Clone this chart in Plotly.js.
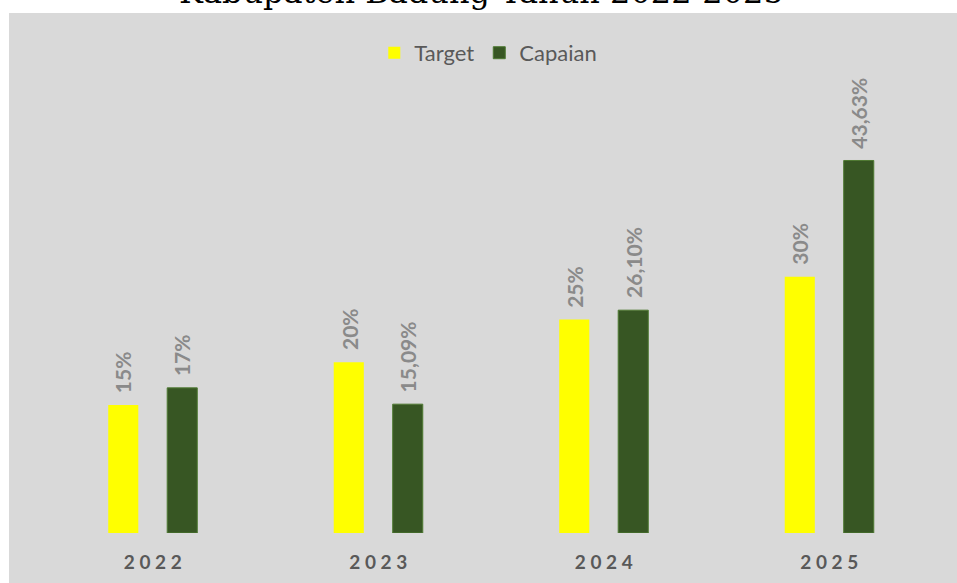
<!DOCTYPE html>
<html>
<head>
<meta charset="utf-8">
<script src="https://cdn.plot.ly/plotly-3.0.1.min.js"></script>
<style>
html,body{margin:0;padding:0;background:#ffffff;}
#bg{position:absolute;left:9px;top:13px;right:0;bottom:0;background:#d9d9d9;}
#chart{position:absolute;left:0;top:0;width:957px;height:583px;}
</style>
</head>
<body>
<div id="bg"></div>
<div id="chart"></div>
<script>
const years = ['2022', '2023', '2024', '2025'];
const yearLabels = ['2 0 2 2', '2 0 2 3', '2 0 2 4', '2 0 2 5'];
const target = [15, 20, 25, 30];
const targetLabels = ['15%', '20%', '25%', '30%'];
const capaian = [17, 15.09, 26.10, 43.63];
const capaianLabels = ['17%', '15,09%', '26,10%', '43,63%'];
const titleText = 'Kabupaten Badung Tahun 2022-2025';

const bargap = 0.477;
const slot = (1 - bargap) / 2;

const traces = [
  {type: 'bar', name: 'Target', x: years, y: target,
   marker: {color: '#ffff00'}, hoverinfo: 'skip'},
  {type: 'bar', name: 'Capaian', x: years, y: capaian,
   marker: {color: '#375623', line: {color: '#4f7a33', width: 1}}, hoverinfo: 'skip'}
];

const annotations = [];
const labelFont = {family: 'Lato, "Open Sans", sans-serif', size: 21, color: '#8a8a8a', weight: 'bold'};
years.forEach((yr, i) => {
  annotations.push({x: i - slot / 2, y: target[i], xref: 'x', yref: 'y', text: '<b>' + targetLabels[i] + '</b>',
    textangle: -90, showarrow: false, yanchor: 'bottom', xanchor: 'center', yshift: 10, font: labelFont});
  annotations.push({x: i + slot / 2, y: capaian[i], xref: 'x', yref: 'y', text: '<b>' + capaianLabels[i] + '</b>',
    textangle: -90, showarrow: false, yanchor: 'bottom', xanchor: 'center', yshift: 10, font: labelFont});
});

const layout = {
  width: 957, height: 583,
  paper_bgcolor: 'rgba(0,0,0,0)', plot_bgcolor: 'rgba(0,0,0,0)',
  margin: {l: 40, r: 15, t: 60, b: 50},
  title: {text: titleText, font: {family: '"DejaVu Serif", serif', size: 32, color: '#000000'},
    x: 0.503, xanchor: 'center', y: 0.9948, yanchor: 'bottom', yref: 'container'},
  barmode: 'group', bargap: bargap, bargroupgap: 0.49,
  showlegend: true,
  legend: {orientation: 'h', x: 0.497, xanchor: 'center', y: 1.015, yanchor: 'middle',
    font: {family: 'Lato, "Open Sans", sans-serif', size: 22, color: '#595959'}, bgcolor: 'rgba(0,0,0,0)'},
  xaxis: {type: 'category', tickvals: years, ticktext: yearLabels, range: [-0.5, 3.5],
    showgrid: false, zeroline: false, showline: false, ticks: '', ticklabelstandoff: 16,
    tickfont: {family: 'Lato, "Open Sans", sans-serif', size: 19, color: '#595959', weight: 'bold'}},
  yaxis: {range: [0, 55.4], visible: false, showgrid: false, zeroline: false},
  annotations: annotations
};

Plotly.newPlot('chart', traces, layout, {staticPlot: true, displayModeBar: false});
</script>
</body>
</html>
